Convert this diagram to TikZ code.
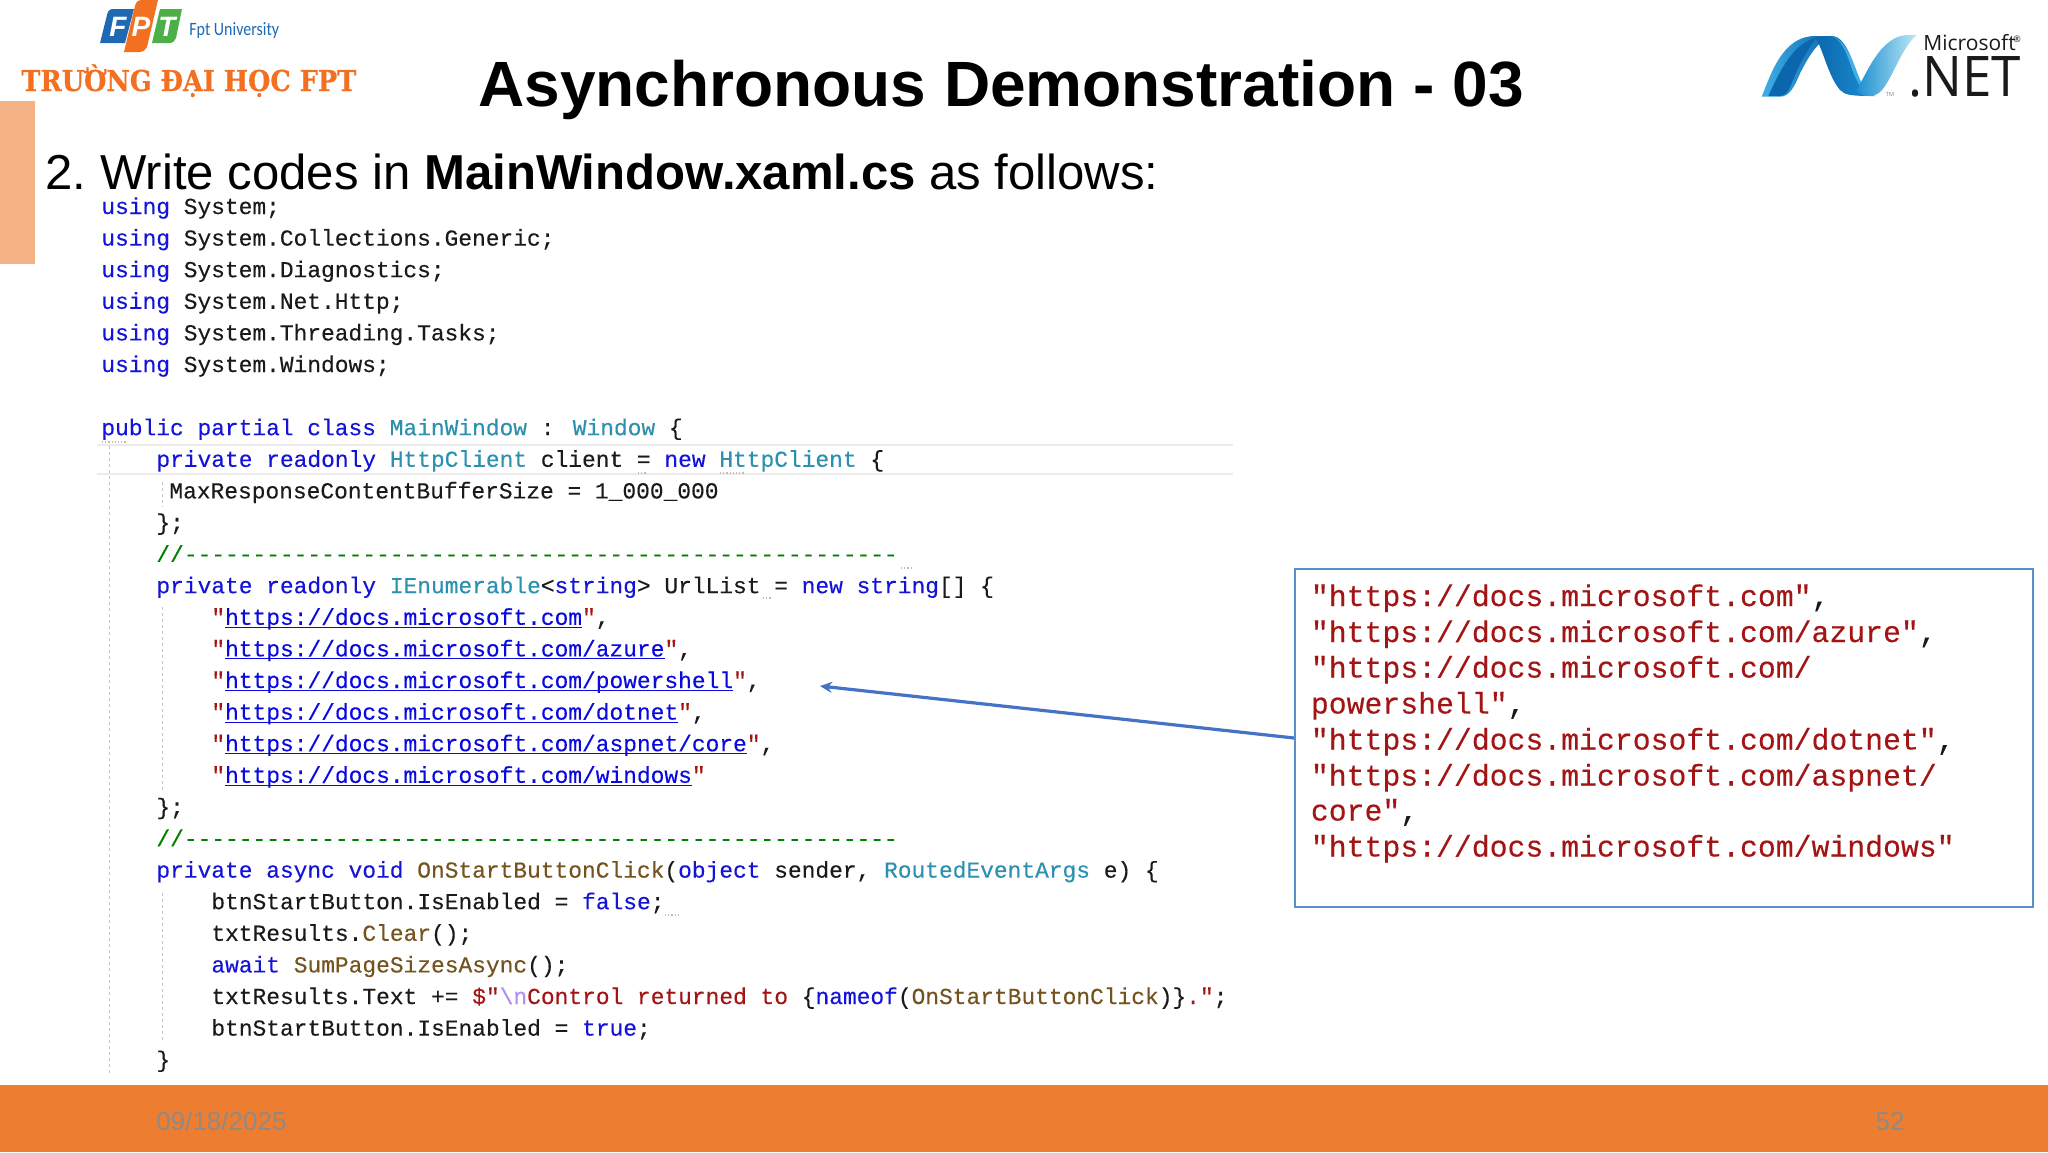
\documentclass[tikz,border=0pt]{standalone}
\usepackage{fontspec}
\usetikzlibrary{arrows.meta}
\setmainfont{Liberation Sans}
\newfontfamily\codefont[FakeBold=0.25]{Liberation Mono}
\newfontfamily\slabfont[FakeBold=0.6]{DejaVu Serif}
\newfontfamily\msfont{Open Sans}
\newfontfamily\fptfont{Carlito}
\definecolor{kwc}{HTML}{1414D8}
\definecolor{tyc}{HTML}{2B91AF}
\definecolor{mec}{HTML}{74531F}
\definecolor{stc}{HTML}{A31515}
\definecolor{cmc}{HTML}{008000}
\definecolor{lkc}{HTML}{0A0AE0}
\definecolor{esc}{HTML}{B48CF0}
\definecolor{txc}{HTML}{1A1A1A}
\definecolor{barc}{HTML}{F4B183}
\definecolor{footc}{HTML}{ED7D31}
\definecolor{fgray}{HTML}{8F8A85}
\definecolor{boxc}{HTML}{5B8FCB}
\definecolor{arrc}{HTML}{4472C4}
\definecolor{fptblue}{HTML}{1F69B3}
\definecolor{fptorange}{HTML}{F37021}
\definecolor{fptgreen}{HTML}{4CAF48}
\definecolor{hintc}{HTML}{BDBDBD}
\definecolor{ribdark}{HTML}{0C66AE}
\definecolor{ribmid}{HTML}{1C8FD0}
\definecolor{riblight}{HTML}{3FB0E6}
\definecolor{ribpale}{HTML}{BFE8F7}
\newcommand{\kw}[1]{\textcolor{kwc}{#1}}
\newcommand{\ty}[1]{\textcolor{tyc}{#1}}
\newcommand{\me}[1]{\textcolor{mec}{#1}}
\newcommand{\st}[1]{\textcolor{stc}{#1}}
\newcommand{\cm}[1]{\textcolor{cmc}{#1}}
\newcommand{\es}[1]{\textcolor{esc}{#1}}
\newcommand{\lnk}[1]{\setbox0\hbox{#1}\rlap{\textcolor{lkc}{\rule[-1.5pt]{\wd0}{0.55pt}}}\textcolor{lkc}{\box0}}
\newcommand{\url}[2]{\st{"}\lnk{#1}\st{"}#2}
\newcommand{\ly}[1]{214+31.6*#1}
\newcommand{\usingline}[2]{\node[codeline,name=#1] at (101,{\ly{#1}}) {\kw{using} #2};}
\tikzset{
  codeline/.style={anchor=base west,inner sep=0pt,text=txc,font=\codefont\fontsize{11.44}{12}\selectfont},
  urltext/.style={anchor=base west,inner sep=0pt,text=stc,font=\codefont\fontsize{14.9}{16}\selectfont},
  guide/.style={draw=black!22,line width=0.4pt,dash pattern=on 1.5pt off 1.5pt},
  hilite/.style={draw=black!8,line width=1.2pt},
  hint/.style={draw=hintc,line width=0.6pt,dash pattern=on 0.6pt off 1pt},
}
\begin{document}
\begin{tikzpicture}[x=0.5pt,y=-0.5pt]
\useasboundingbox (0,0) rectangle (2048,1152);
\fill[white] (0,0) rectangle (2048,1152);

% side bar and footer
\fill[barc] (0,101) rectangle (35,264);
\fill[footc] (0,1085) rectangle (2048,1152);
\node[anchor=base west,inner sep=0pt,text=fgray,font=\fontsize{13}{15}\selectfont] (date) at (156,1130) {09/18/2025};
\node[anchor=base,inner sep=0pt,text=fgray,font=\fontsize{13}{15}\selectfont] (page) at (1890,1130) {52};

% FPT logo
\fill[fptblue] (100,43) -- (107,15) .. controls (108,10) and (110,9) .. (114,9) -- (134,9) -- (125,43) -- cycle;
\fill[fptorange] (124,52) -- (135,6) .. controls (136,2) and (138,0) .. (142,0) -- (158,0) -- (147,47) .. controls (146,50) and (143,52) .. (139,52) -- cycle;
\fill[fptgreen] (152,43) -- (160,9) -- (182,9) -- (176,38) .. controls (175,41) and (173,43) .. (169,43) -- cycle;
\node[inner sep=0pt,text=white,font=\bfseries\itshape\fontsize{14}{16}\selectfont] (fptf) at (118,27) {F};
\node[inner sep=0pt,text=white,font=\bfseries\itshape\fontsize{14}{16}\selectfont] (fptp) at (141,27) {P};
\node[inner sep=0pt,text=white,font=\bfseries\itshape\fontsize{14}{16}\selectfont] (fptt) at (167,27) {T};
\node[anchor=base west,inner sep=0pt,text=fptblue,xscale=0.85,font=\fptfont\fontsize{9.4}{11}\selectfont] (fptu) at (189,35) {Fpt University};
\node[anchor=base west,inner sep=0pt,text=fptorange,xscale=0.89,font=\slabfont\bfseries\fontsize{14.4}{16}\selectfont] (fptname) at (21,91) {TRƯỜNG ĐẠI HỌC FPT};

% .NET logo
\begin{scope}[shift={(1700,0)},x=0.1667pt,y=-0.1667pt]
\shade[left color=riblight,right color=ribdark] (185,290) .. controls (215,215) and (250,105) .. (350,108) -- (400,108) .. controls (360,115) and (330,160) .. (300,220) .. controls (285,255) and (270,290) .. (240,290) -- cycle;
\fill[ribdark] (205,288) .. controls (240,210) and (280,130) .. (350,112) .. controls (320,150) and (290,210) .. (275,250) .. controls (265,275) and (255,288) .. (240,288) -- cycle;
\shade[left color=ribdark,right color=ribmid] (345,110) .. controls (370,150) and (385,230) .. (420,270) .. controls (435,285) and (450,288) .. (525,288) .. controls (490,280) and (480,240) .. (460,190) .. controls (440,135) and (420,108) .. (395,108) -- cycle;
\fill[riblight] (395,108) .. controls (430,120) and (450,160) .. (470,215) .. controls (485,255) and (500,280) .. (525,288) .. controls (490,285) and (470,250) .. (450,190) .. controls (435,145) and (420,118) .. (395,108) -- cycle;
\shade[left color=ribmid,right color=ribpale] (470,270) .. controls (500,220) and (540,110) .. (620,105) -- (650,105) .. controls (610,140) and (590,200) .. (560,250) .. controls (545,275) and (530,288) .. (510,288) .. controls (490,288) and (478,282) .. (470,270) -- cycle;
\end{scope}
\node[anchor=base west,inner sep=0pt,text=txc,font=\msfont\fontsize{10.5}{12}\selectfont] (ms) at (1923,50) {Microsoft};
\node[inner sep=0pt,text=txc,font=\msfont\fontsize{4.5}{5}\selectfont] (reg) at (2017,39) {®};
\node[anchor=base west,inner sep=0pt,text=txc,xscale=0.945,font=\msfont\fontsize{28}{30}\selectfont] (net) at (1908,96) {.NET};
\node[inner sep=0pt,text=black!50,font=\msfont\fontsize{2.8}{3}\selectfont] (tm) at (1890,94) {TM};

% titles
\node[anchor=base,inner sep=0pt,text=black,font=\bfseries\fontsize{32}{36}\selectfont] (title) at (1001,106) {Asynchronous Demonstration - 03};
\node[anchor=base west,inner sep=0pt,text=black,font=\fontsize{24.55}{28}\selectfont] (sub) at (45,189) {2.\hspace{7pt}Write codes in \textbf{MainWindow.xaml.cs} as follows:};

% editor decorations
\draw[hilite] (97,445) -- (1233,445);
\draw[hilite] (97,474) -- (1233,474);
\draw[guide] (109,446) -- (109,1075);
\draw[guide] (162,482) -- (162,507);
\draw[guide] (162,607) -- (162,793);
\draw[guide] (162,893) -- (162,1043);
\draw[hint] (102,442) -- (127,442);
\draw[hint] (638,473) -- (647,473);
\draw[hint] (720,473) -- (745,473);
\draw[hint] (763,598) -- (772,598);
\draw[hint] (901,568) -- (912,568);
\draw[hint] (665,915) -- (678,915);

% code
\usingline{0}{System;}
\usingline{1}{System.Collections.Generic;}
\usingline{2}{System.Diagnostics;}
\usingline{3}{System.Net.Http;}
\usingline{4}{System.Threading.Tasks;}
\usingline{5}{System.Windows;}
\node[codeline,name=c7] at (101,{\ly{7}}) {\kw{public partial class} \ty{MainWindow} : \ty{Window} \{};
\node[codeline,name=c8] at (156,{\ly{8}}) {\kw{private readonly} \ty{HttpClient} client = \kw{new} \ty{HttpClient} \{};
\node[codeline,name=c9] at (169,{\ly{9}}) {MaxResponseContentBufferSize = 1\_000\_000};
\node[codeline,name=c10] at (156,{\ly{10}}) {\};};
\node[codeline,name=c11] at (156,{\ly{11}}) {\cm{//----------------------------------------------------}};
\node[codeline,name=c12] at (156,{\ly{12}}) {\kw{private readonly} \ty{IEnumerable}<\kw{string}> UrlList = \kw{new string}[] \{};
\node[codeline,name=c13] at (211,{\ly{13}}) {\url{https://docs.microsoft.com}{,}};
\node[codeline,name=c14] at (211,{\ly{14}}) {\url{https://docs.microsoft.com/azure}{,}};
\node[codeline,name=c15] at (211,{\ly{15}}) {\url{https://docs.microsoft.com/powershell}{,}};
\node[codeline,name=c16] at (211,{\ly{16}}) {\url{https://docs.microsoft.com/dotnet}{,}};
\node[codeline,name=c17] at (211,{\ly{17}}) {\url{https://docs.microsoft.com/aspnet/core}{,}};
\node[codeline,name=c18] at (211,{\ly{18}}) {\url{https://docs.microsoft.com/windows}{}};
\node[codeline,name=c19] at (156,{\ly{19}}) {\};};
\node[codeline,name=c20] at (156,{\ly{20}}) {\cm{//----------------------------------------------------}};
\node[codeline,name=c21] at (156,{\ly{21}}) {\kw{private async void} \me{OnStartButtonClick}(\kw{object} sender, \ty{RoutedEventArgs} e) \{};
\node[codeline,name=c22] at (211,{\ly{22}}) {btnStartButton.IsEnabled = \kw{false};};
\node[codeline,name=c23] at (211,{\ly{23}}) {txtResults.\me{Clear}();};
\node[codeline,name=c24] at (211,{\ly{24}}) {\kw{await} \me{SumPageSizesAsync}();};
\node[codeline,name=c25] at (211,{\ly{25}}) {txtResults.Text += \st{\$"}\es{\textbackslash n}\st{Control returned to }\{\kw{nameof}(\me{OnStartButtonClick})\}\st{."};};
\node[codeline,name=c26] at (211,{\ly{26}}) {btnStartButton.IsEnabled = \kw{true};};
\node[codeline,name=c27] at (156,{\ly{27}}) {\}};

% url box and connector
\node[draw=boxc,line width=1pt,fill=white,inner sep=0pt,minimum width=369pt,minimum height=169pt] (urlbox) at (1664,738) {};
\coordinate (target) at (820,686);
\draw[arrc,line width=1.6pt,-{Stealth[length=6pt,width=5.5pt]}] (urlbox.west) -- (target);
\node[urltext,name=u1] at (1310.5,606) {"https://docs.microsoft.com"\textcolor{txc}{,}};
\node[urltext,name=u2] at (1310.5,642) {"https://docs.microsoft.com/azure"\textcolor{txc}{,}};
\node[urltext,name=u3] at (1310.5,677.5) {"https://docs.microsoft.com/};
\node[urltext,name=u4] at (1310.5,713.5) {powershell"\textcolor{txc}{,}};
\node[urltext,name=u5] at (1310.5,749.5) {"https://docs.microsoft.com/dotnet"\textcolor{txc}{,}};
\node[urltext,name=u6] at (1310.5,785.5) {"https://docs.microsoft.com/aspnet/};
\node[urltext,name=u7] at (1310.5,820.5) {core"\textcolor{txc}{,}};
\node[urltext,name=u8] at (1310.5,856.5) {"https://docs.microsoft.com/windows"};
\end{tikzpicture}
\end{document}
